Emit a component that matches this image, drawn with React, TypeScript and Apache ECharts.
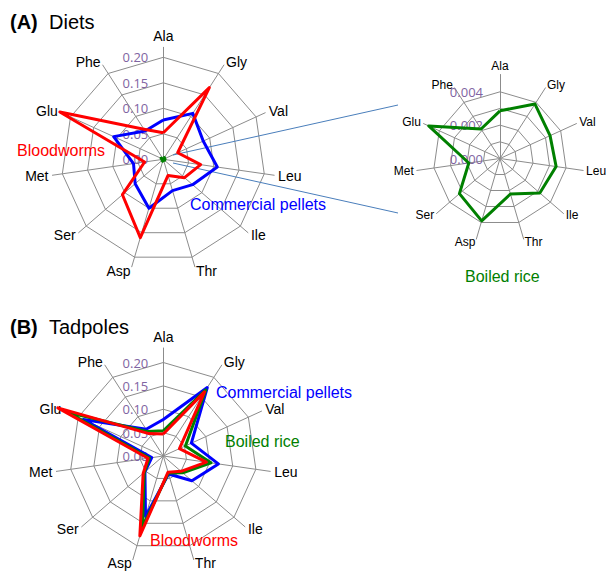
import React, { useEffect, useRef } from "react";
import * as echarts from "echarts";

// Clockwise from the top
const aminoAcids = ["Ala", "Gly", "Val", "Leu", "Ile", "Thr", "Asp", "Ser", "Met", "Glu", "Phe"];

// (A) Diets
const dietPellets = [0.077, 0.107, 0.086, 0.107, 0.076, 0.064, 0.100, 0.073, 0.059, 0.107, 0.066];
const dietBloodworms = [0.052, 0.167, 0.031, 0.074, 0.055, 0.033, 0.160, 0.106, 0.037, 0.223, 0.070];
const dietRice = [0.00286, 0.00388, 0.0033, 0.0034, 0.00316, 0.00222, 0.0039, 0.00322, 0.00189, 0.0047, 0.0021];

// (B) Tadpoles
const tadPellets = [0.078, 0.174, 0.066, 0.119, 0.081, 0.040, 0.135, 0.052, 0.025, 0.188, 0.068];
const tadRice = [0.054, 0.168, 0.052, 0.103, 0.055, 0.038, 0.158, 0.054, 0.030, 0.225, 0.062];
const tadBloodworms = [0.047, 0.163, 0.038, 0.093, 0.050, 0.036, 0.178, 0.057, 0.033, 0.248, 0.057];

// Axis scales (tick labels)
const mainMax = 0.2;
const mainSplit = 4;
const mainDecimals = 2;
const riceMax = 0.004;
const riceSplit = 4;
const riceDecimals = 3;

const RED = "#ff0000";
const BLUE = "#0000ff";
const GREEN = "#008000";
const GRID = "#8c8c8c";
const PURPLE = "#8064a2";
const FONT = "Liberation Sans";

// ECharts places indicators counter-clockwise; reorder to read clockwise
const toEC = <T,>(arr: T[]): T[] => [arr[0], ...arr.slice(1).reverse()];

function radarPair(
  center: [number, number],
  axisR: number,
  ringR: number,
  max: number,
  split: number,
  fontSize: number,
  nameGap: number,
  labelMargin: number,
  formatter: (v: number) => string
) {
  const names = toEC(aminoAcids);
  return [
    {
      center,
      radius: axisR,
      startAngle: 90,
      shape: "polygon",
      splitNumber: 1,
      indicator: names.map((n) => ({ name: n, min: 0, max: 1 })),
      axisName: { color: "#000", fontSize, fontFamily: FONT },
      nameGap,
      axisLine: { show: true, lineStyle: { color: GRID, width: 1 } },
      axisTick: { show: false },
      axisLabel: { show: false },
      splitLine: { show: false },
      splitArea: { show: false },
    },
    {
      center,
      radius: ringR,
      startAngle: 90,
      shape: "polygon",
      splitNumber: split,
      indicator: names.map((n, i) =>
        i === 0
          ? {
              name: "",
              min: 0,
              max,
              axisLabel: {
                show: true,
                color: PURPLE,
                fontSize: 13,
                fontFamily: "Open Sans",
                margin: labelMargin,
                formatter,
              },
            }
          : { name: "", min: 0, max }
      ),
      axisName: { show: false },
      axisLine: { show: false },
      axisTick: { show: false },
      axisLabel: { show: false },
      splitLine: { show: true, lineStyle: { color: GRID, width: 1 } },
      splitArea: { show: false },
    },
  ];
}

function series(radarIndex: number, name: string, values: number[], color: string, z: number) {
  return {
    type: "radar",
    radarIndex,
    name,
    symbol: "none",
    z,
    lineStyle: { width: 3, color },
    itemStyle: { color },
    data: [{ name, value: toEC(values) }],
  };
}

function text(t: string, x: number, y: number, color: string, size: number, weight = "normal") {
  return {
    type: "text",
    x,
    y,
    z: 10,
    style: {
      text: t,
      fill: color,
      fontSize: size,
      fontFamily: FONT,
      fontWeight: weight,
      align: "left",
      verticalAlign: "middle",
    },
  };
}

export default function App() {
  const ref = useRef<HTMLDivElement>(null);
  useEffect(() => {
    document.body.style.margin = "0";
    if (!ref.current) return;
    const chart = echarts.init(ref.current, null, { renderer: "svg" });
    const mainFmt = (v: number) => v.toFixed(mainDecimals);
    const riceFmt = (v: number) =>
      Math.round(v * 1000) % 2 === 0 ? v.toFixed(riceDecimals) : "";
    const radars = [
      ...radarPair([163.3, 159.3], 112, 102, mainMax, mainSplit, 14, 4, 15, mainFmt),
      ...radarPair([500, 158.5], 84, 66.7, riceMax, riceSplit, 12, 3, 17, riceFmt),
      ...radarPair([163.3, 456], 108, 93.5, mainMax, mainSplit, 14, 4, 15, mainFmt),
    ];
    chart.setOption({
      animation: false,
      radar: radars,
      series: [
        series(1, "Commercial pellets", dietPellets, BLUE, 2),
        series(1, "Bloodworms", dietBloodworms, RED, 3),
        series(1, "Boiled rice", dietRice, GREEN, 4),
        series(3, "Boiled rice", dietRice, GREEN, 2),
        series(5, "Commercial pellets", tadPellets, BLUE, 2),
        series(5, "Boiled rice", tadRice, GREEN, 3),
        series(5, "Bloodworms", tadBloodworms, RED, 4),
      ],
      graphic: [
        text("(A)", 10, 22, "#000", 20, "bold"),
        text("Diets", 49, 22, "#000", 20),
        text("(B)", 10, 327, "#000", 20, "bold"),
        text("Tadpoles", 49, 327, "#000", 20),
        text("Bloodworms", 17, 150, RED, 16),
        text("Commercial pellets", 190, 204, BLUE, 16),
        text("Boiled rice", 465, 276, GREEN, 16),
        text("Commercial pellets", 216, 392, BLUE, 16),
        text("Boiled rice", 225, 441, GREEN, 16),
        text("Bloodworms", 150, 540, RED, 16),
        {
          type: "line",
          z: 1,
          shape: { x1: 173, y1: 155, x2: 398, y2: 105 },
          style: { stroke: "#4a7ebb", lineWidth: 1 },
        },
        {
          type: "line",
          z: 1,
          shape: { x1: 173, y1: 163, x2: 398, y2: 213 },
          style: { stroke: "#4a7ebb", lineWidth: 1 },
        },
      ],
    });
    return () => chart.dispose();
  }, []);
  return <div ref={ref} style={{ width: 608, height: 572 }} />;
}
